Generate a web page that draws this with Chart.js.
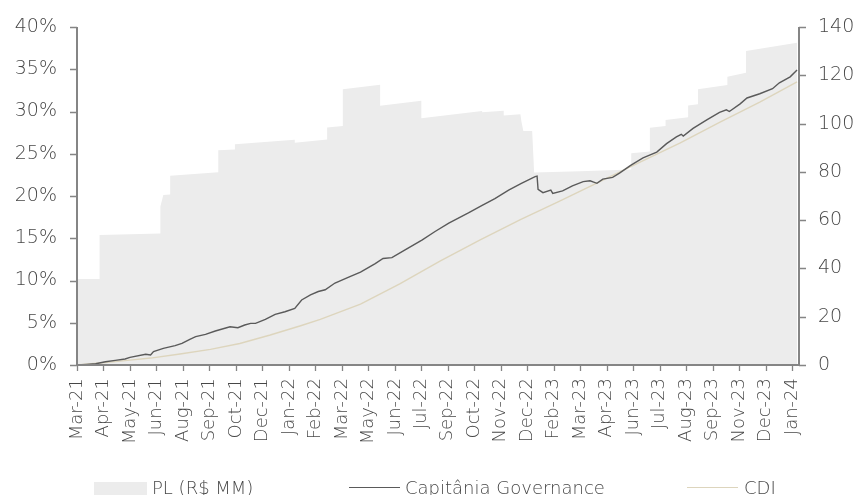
<!DOCTYPE html>
<html>
<head>
<meta charset="utf-8">
<script src="https://cdn.jsdelivr.net/npm/chart.js@4.4.1/dist/chart.umd.min.js"></script>
<style>
  html, body { margin: 0; padding: 0; background: #fff; overflow: hidden; }
  #wrap { position: relative; width: 856px; height: 495px; overflow: hidden; }
  #chart { position: absolute; left: 0; top: 0; }
  .leg-text { position: absolute; font-family: 'DejaVu Sans', sans-serif; font-weight: 200;
              font-size: 18px; line-height: 18px; color: #474747; white-space: nowrap; }
  .leg-swatch { position: absolute; }
</style>
</head>
<body>
<div id="wrap">
  <canvas id="chart" width="856" height="495"></canvas>
</div>
<script>
// Axis labels (one every 27 business days)
const tickLabels = ['Mar-21','Apr-21','May-21','Jun-21','Aug-21','Sep-21','Oct-21','Dec-21',
  'Jan-22','Feb-22','Mar-22','May-22','Jun-22','Jul-22','Sep-22','Oct-22','Nov-22','Dec-22',
  'Feb-23','Mar-23','Apr-23','Jun-23','Jul-23','Aug-23','Sep-23','Nov-23','Dec-23','Jan-24'];
const DAYS_PER_TICK = 27;
const LAST_DAY = 736;

const seriesNames = ['PL (R$ MM)', 'Capitânia Governance', 'CDI'];

// Net assets (R$ MM), business-day index vs value
const plDay = [0,23,23,85,85,88,95,95,144,144,161,161,222,222,255,255,271,271,309,309,351,351,
  413,413,435,435,452,453,455,464,466,513,565,565,584,584,600,600,623,623,633,633,663,663,682,682,734];
const plVal = [35.6,35.6,53.8,54.5,65.6,70.4,70.6,78.4,79.8,89.0,89.3,91.4,93.3,92.1,93.4,98.4,
  99.0,114.2,116.1,107.4,109.5,102.2,105.2,104.7,105.3,103.3,103.9,101.0,96.9,96.9,79.7,80.2,
  81.0,87.7,88.4,98.3,99.0,101.5,102.6,107.5,108.0,114.2,116.0,119.4,121.1,130.1,133.5];

// Fund cumulative return (%)
const fundDay = [0,10,19,29,39,49,54,70,75,78,88,100,107,115,121,131,141,156,164,171,177,182,
  192,202,212,222,229,238,246,253,263,277,289,304,312,321,334,352,365,379,399,413,426,440,453,
  467,469,470,475,483,485,495,505,516,523,530,536,546,553,564,577,591,601,611,616,618,628,642,
  655,662,665,676,683,696,709,716,727,734];
const fundVal = [0,0.08,0.15,0.39,0.55,0.71,0.9,1.27,1.18,1.6,1.97,2.29,2.55,3.04,3.35,3.63,4.02,
  4.53,4.41,4.73,4.93,4.93,5.4,6.0,6.3,6.7,7.7,8.3,8.7,8.9,9.7,10.4,11.0,12.0,12.6,12.7,13.6,14.8,
  15.8,16.8,18.0,18.9,19.7,20.7,21.5,22.3,22.35,20.8,20.4,20.7,20.3,20.6,21.2,21.7,21.8,21.5,22.0,
  22.2,22.7,23.6,24.5,25.2,26.2,27.0,27.3,27.1,28.0,29.0,29.9,30.2,30.0,30.9,31.6,32.1,32.7,33.4,
  34.1,34.9];

// CDI cumulative return (%)
const cdiDay = [0,29,54,75,105,136,166,197,228,248,289,329,370,411,452,492,533,574,615,655,696,734];
const cdiVal = [0,0.3,0.58,0.82,1.3,1.85,2.55,3.55,4.65,5.4,7.2,9.6,12.3,14.8,17.2,19.4,21.7,24.0,
  26.3,28.7,31.1,33.5];

const leftTicks = { min: 0, max: 40, step: 5 };
const rightTicks = { min: 0, max: 140, step: 20 };

const colors = { pl: '#ececec', fund: '#5a5a5a', cdi: '#ddd5bd', axis: '#858585', text: '#474747' };
const tickMark = { y: 7, x: 6 };

Chart.defaults.font.family = "'DejaVu Sans', sans-serif";
Chart.defaults.font.weight = '200';
Chart.defaults.color = colors.text;

const toPoints = (xs, ys) => xs.map((x, i) => ({ x, y: ys[i] }));

// Axis frame (left, bottom, right) and outward tick marks, drawn over the filled area
const axisFrame = {
  id: 'axisFrame',
  afterDraw(chart) {
    const { ctx, chartArea: a, scales } = chart;
    const px = (v) => Math.round(v) + 0.5;
    ctx.save();
    ctx.strokeStyle = colors.axis;
    ctx.lineWidth = 1.3;
    ctx.beginPath();
    scales.y.ticks.forEach((t) => {
      const y = px(scales.y.getPixelForValue(t.value));
      ctx.moveTo(a.left - tickMark.y, y); ctx.lineTo(a.left, y);
    });
    scales.y1.ticks.forEach((t) => {
      const y = px(scales.y1.getPixelForValue(t.value));
      ctx.moveTo(a.right, y); ctx.lineTo(a.right + tickMark.y, y);
    });
    scales.x.ticks.forEach((t) => {
      const x = px(scales.x.getPixelForValue(t.value));
      ctx.moveTo(x, a.bottom); ctx.lineTo(x, a.bottom + tickMark.x);
    });
    ctx.stroke();
    ctx.lineWidth = 2;
    ctx.beginPath();
    ctx.moveTo(a.left, a.top);
    ctx.lineTo(a.left, a.bottom);
    ctx.lineTo(a.right, a.bottom);
    ctx.lineTo(a.right, a.top);
    ctx.stroke();
    ctx.restore();
  }
};

// Tick length reserved for label spacing; the marks themselves come from axisFrame
const tickGrid = (len) => ({ display: true, drawOnChartArea: false, drawTicks: true,
  tickLength: len, color: 'rgba(0,0,0,0)', lineWidth: 1 });
const keepTop = (s) => { s.paddingTop = 10; };

new Chart(document.getElementById('chart'), {
  type: 'line',
  data: {
    datasets: [
      { label: seriesNames[0], data: toPoints(plDay, plVal), yAxisID: 'y1', fill: 'origin',
        backgroundColor: colors.pl, borderWidth: 0, pointRadius: 0, tension: 0, order: 3 },
      { label: seriesNames[1], data: toPoints(fundDay, fundVal), yAxisID: 'y', fill: false,
        borderColor: colors.fund, borderWidth: 1.4, pointRadius: 0, tension: 0, order: 1 },
      { label: seriesNames[2], data: toPoints(cdiDay, cdiVal), yAxisID: 'y', fill: false,
        borderColor: colors.cdi, borderWidth: 1.4, pointRadius: 0, tension: 0, order: 2 }
    ]
  },
  plugins: [axisFrame],
  options: {
    responsive: false,
    animation: false,
    layout: { padding: { top: 27, left: 0, right: 0, bottom: 0 } },
    plugins: { legend: { display: false }, tooltip: { enabled: false } },
    scales: {
      x: {
        type: 'linear', min: 0, max: LAST_DAY,
        ticks: {
          stepSize: DAYS_PER_TICK, autoSkip: false, includeBounds: false,
          minRotation: 90, maxRotation: 90, padding: 7, font: { size: 18 },
          callback: (v) => tickLabels[Math.round(v / DAYS_PER_TICK)]
        },
        grid: tickGrid(tickMark.x), border: { display: false },
        afterFit: (s) => { s.height = 130; }
      },
      y: {
        position: 'left', min: leftTicks.min, max: leftTicks.max,
        ticks: { stepSize: leftTicks.step, padding: 13, font: { size: 19 }, callback: (v) => v + '%' },
        grid: tickGrid(tickMark.y), border: { display: false },
        afterFit: (s) => { s.width = 77; keepTop(s); }
      },
      y1: {
        position: 'right', min: rightTicks.min, max: rightTicks.max,
        ticks: { stepSize: rightTicks.step, padding: 12, font: { size: 19 } },
        grid: tickGrid(tickMark.y), border: { display: false },
        afterFit: (s) => { s.width = 57; keepTop(s); }
      }
    }
  }
});

// Legend row under the axis labels
const legendLayout = [
  { kind: 'box',  color: colors.pl,   swatchLeft: 94,  swatchWidth: 53, textLeft: 152 },
  { kind: 'line', color: colors.fund, swatchLeft: 349, swatchWidth: 51, textLeft: 405 },
  { kind: 'line', color: colors.cdi,  swatchLeft: 687, swatchWidth: 51, textLeft: 744 }
];
const wrap = document.getElementById('wrap');
legendLayout.forEach((item, i) => {
  const sw = document.createElement('div');
  sw.className = 'leg-swatch';
  sw.style.left = item.swatchLeft + 'px';
  sw.style.width = item.swatchWidth + 'px';
  if (item.kind === 'box') {
    sw.style.top = '482px'; sw.style.height = '16px'; sw.style.background = item.color;
  } else {
    sw.style.top = '487px'; sw.style.height = '1.4px'; sw.style.background = item.color;
  }
  wrap.appendChild(sw);
  const tx = document.createElement('div');
  tx.className = 'leg-text';
  tx.style.left = item.textLeft + 'px';
  tx.style.top = '478.5px';
  tx.textContent = seriesNames[i];
  wrap.appendChild(tx);
});
</script>
</body>
</html>
